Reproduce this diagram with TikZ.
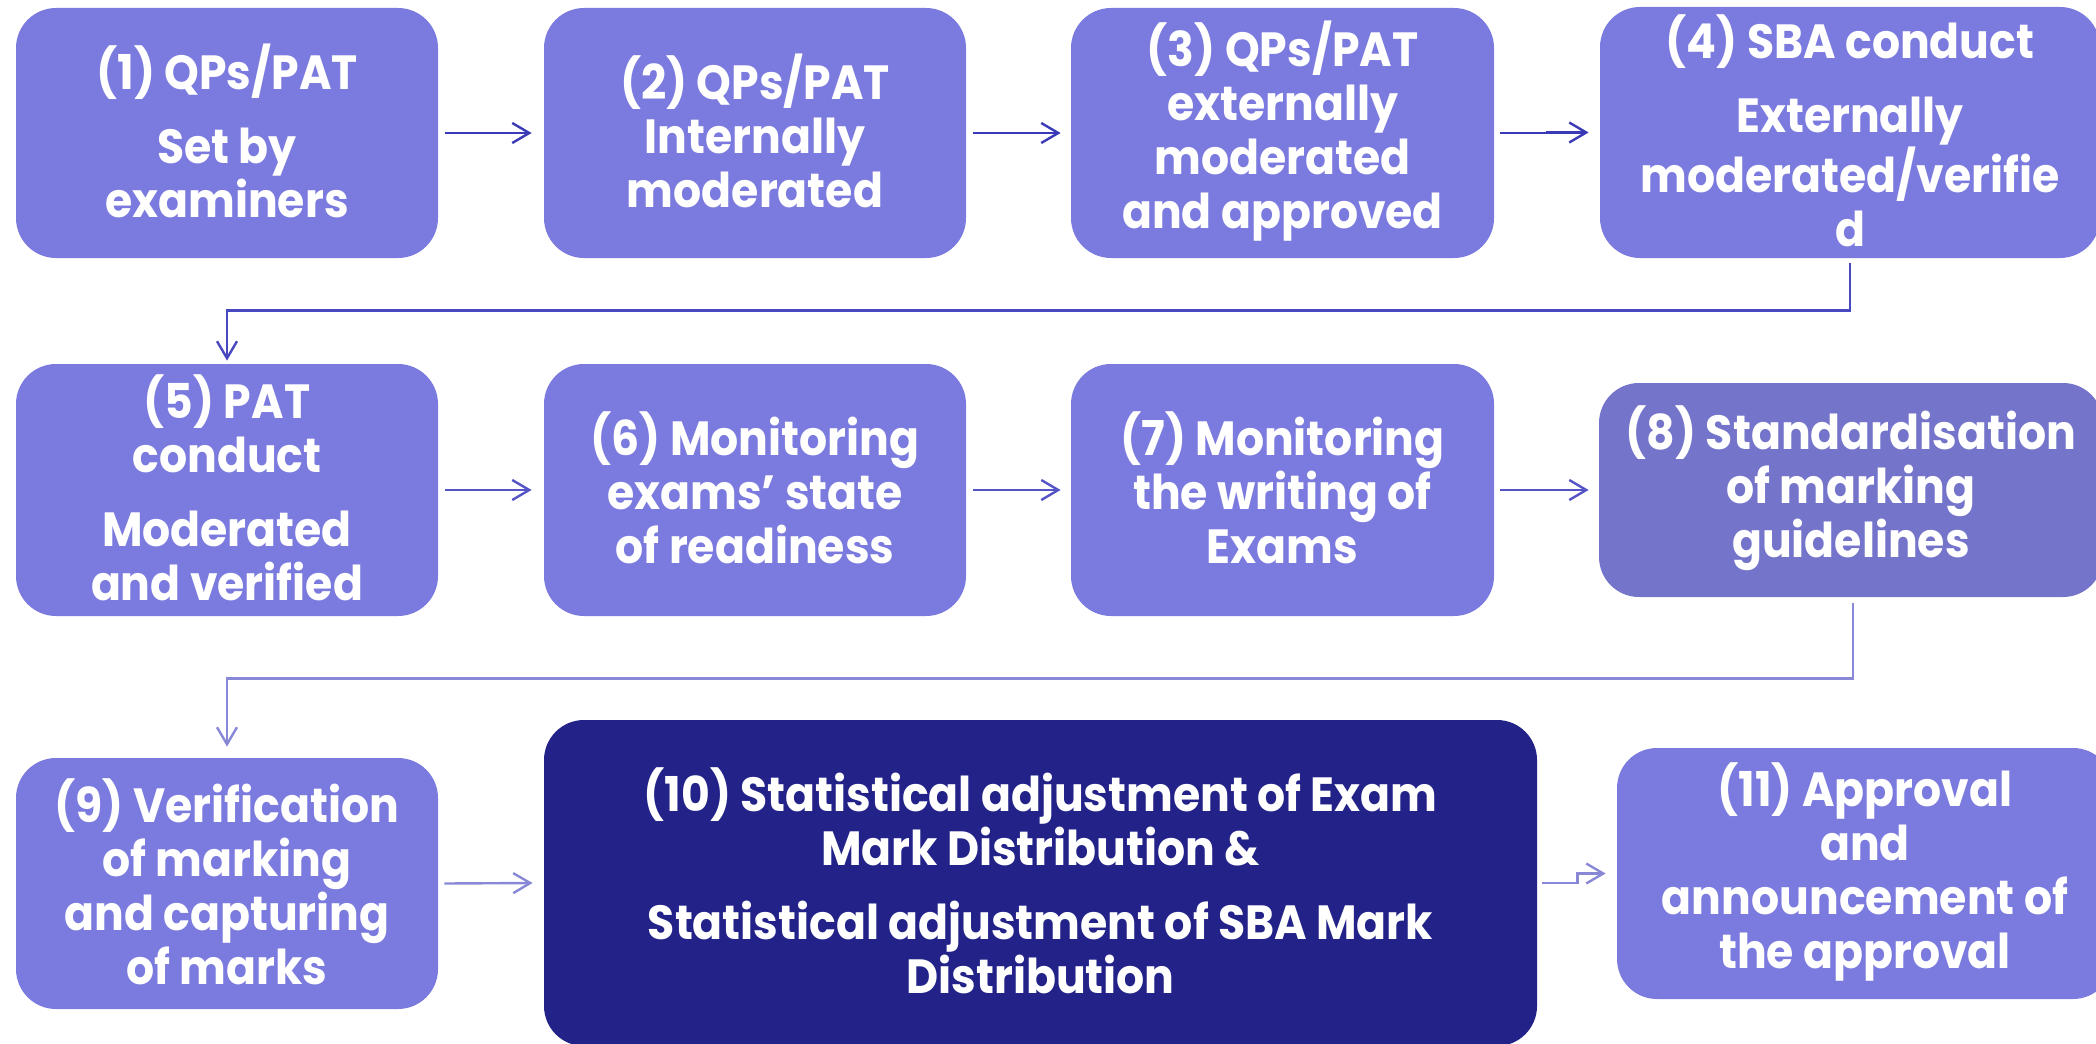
\documentclass[tikz,border=0pt]{standalone}
\usepackage{fontspec}
\setmainfont{Poppins}[FakeStretch=0.92]
\usetikzlibrary{arrows.meta}

\definecolor{stepfill}{RGB}{123,122,222}
\definecolor{stdfill}{RGB}{116,116,202}
\definecolor{adjfill}{RGB}{34,34,136}
\definecolor{linkA}{RGB}{58,58,182}
\definecolor{linkB}{RGB}{72,72,192}
\definecolor{linkC}{RGB}{84,84,198}
\definecolor{linkD}{RGB}{136,136,214}

\begin{document}
\begin{tikzpicture}[x=0.5pt,y=-0.5pt,
  stepbox/.style={rounded corners=20pt, fill=stepfill, inner sep=0pt},
  steptext/.style={text=white, align=center, inner sep=0pt,
    font=\bfseries\fontsize{24}{27}\selectfont},
  link/.style={line width=1.2pt, -{Straight Barb[length=8.5pt,width=10pt]}},
]
\useasboundingbox (0,0) rectangle (2096,1043);

% ---- row 1 ----
\node[stepbox, minimum width=211pt, minimum height=125pt] (b1) at (227,133) {};
\node[stepbox, minimum width=211pt, minimum height=125pt] (b2) at (755,133) {};
\node[stepbox, minimum width=211.5pt, minimum height=125pt] (b3) at (1282.5,133) {};
\node[stepbox, minimum width=250pt, minimum height=125.5pt] (b4) at (1850,132.5) {};

% ---- row 2 ----
\node[stepbox, minimum width=211pt, minimum height=126pt] (b5) at (227,490) {};
\node[stepbox, minimum width=211pt, minimum height=126pt] (b6) at (755,490) {};
\node[stepbox, minimum width=211.5pt, minimum height=126pt] (b7) at (1282.5,490) {};
\node[stepbox, fill=stdfill, minimum width=252pt, minimum height=107pt] (b8) at (1851,490) {};

% ---- row 3 ----
\node[stepbox, minimum width=211pt, minimum height=125.5pt] (b9) at (227,883.5) {};
\node[stepbox, fill=adjfill, minimum width=496.5pt, minimum height=163pt] (b10) at (1040.5,883) {};
\node[stepbox, minimum width=248pt, minimum height=125.5pt] (b11) at (1865,873.5) {};

% ---- labels ----
\node[steptext] (t1) at ([yshift=1pt]b1.center) {(1) QPs/PAT\\[10pt]Set by\\examiners};
\node[steptext] (t2) at ([yshift=1pt]b2.center) {(2) QPs/PAT\\Internally\\moderated};
\node[steptext] (t3) at ([yshift=1pt]b3.center) {(3) QPs/PAT\\externally\\moderated\\and approved};
\node[steptext] (t4) at ([yshift=1pt]b4.center) {(4) SBA conduct\\[10pt]Externally\\moderated/verifie\\d};
\node[steptext] (t5) at ([yshift=1pt]b5.center) {(5) PAT\\conduct\\[10pt]Moderated\\and verified};
\node[steptext] (t6) at ([yshift=1pt]b6.center) {(6) Monitoring\\exams’ state\\of readiness};
\node[steptext] (t7) at ([yshift=1pt]b7.center) {(7) Monitoring\\the writing of\\Exams};
\node[steptext] (t8) at ([yshift=1pt]b8.center) {(8) Standardisation\\of marking\\guidelines};
\node[steptext] (t9) at ([yshift=1pt]b9.center) {(9) Verification\\of marking\\and capturing\\of marks};
\node[steptext] (t10) at ([yshift=1pt]b10.center) {(10) Statistical adjustment of Exam\\Mark Distribution \&\\[10pt]Statistical adjustment of SBA Mark\\Distribution};
\node[steptext] (t11) at ([yshift=1pt]b11.center) {(11) Approval\\and\\announcement of\\the approval};

% ---- connectors ----
\draw[link, linkA] ([xshift=3.5pt]b1.east) -- ([xshift=-6pt]b2.west);
\draw[link, linkA] ([xshift=3.5pt]b2.east) -- ([xshift=-5pt]b3.west);
\draw[link, linkA] ([xshift=3pt]b3.east) -- ++(47,0) |- ([xshift=-5.5pt]b4.west);
\draw[link, linkB] ([yshift=-2.5pt]b4.south) -- ++(0,47) -| ([yshift=1.5pt]b5.north);

\draw[link, linkC] ([xshift=3.5pt]b5.east) -- ([xshift=-6pt]b6.west);
\draw[link, linkC] ([xshift=3.5pt]b6.east) -- ([xshift=-5pt]b7.west);
\draw[link, linkC] ([xshift=3pt]b7.east) -- ([xshift=-5pt,yshift=0pt]b8.west);
\draw[link, linkD] ([xshift=1pt,yshift=-3pt]b8.south) -- ++(0,75) -| ([yshift=5.5pt]b9.north);

\draw[link, linkD] ([xshift=3pt]b9.east) -- ([xshift=-5.5pt]b10.west);
\draw[link, linkD] ([xshift=2.5pt]b10.east) -- ++(35,0) |- ([xshift=-5.5pt]b11.west);
\end{tikzpicture}
\end{document}
